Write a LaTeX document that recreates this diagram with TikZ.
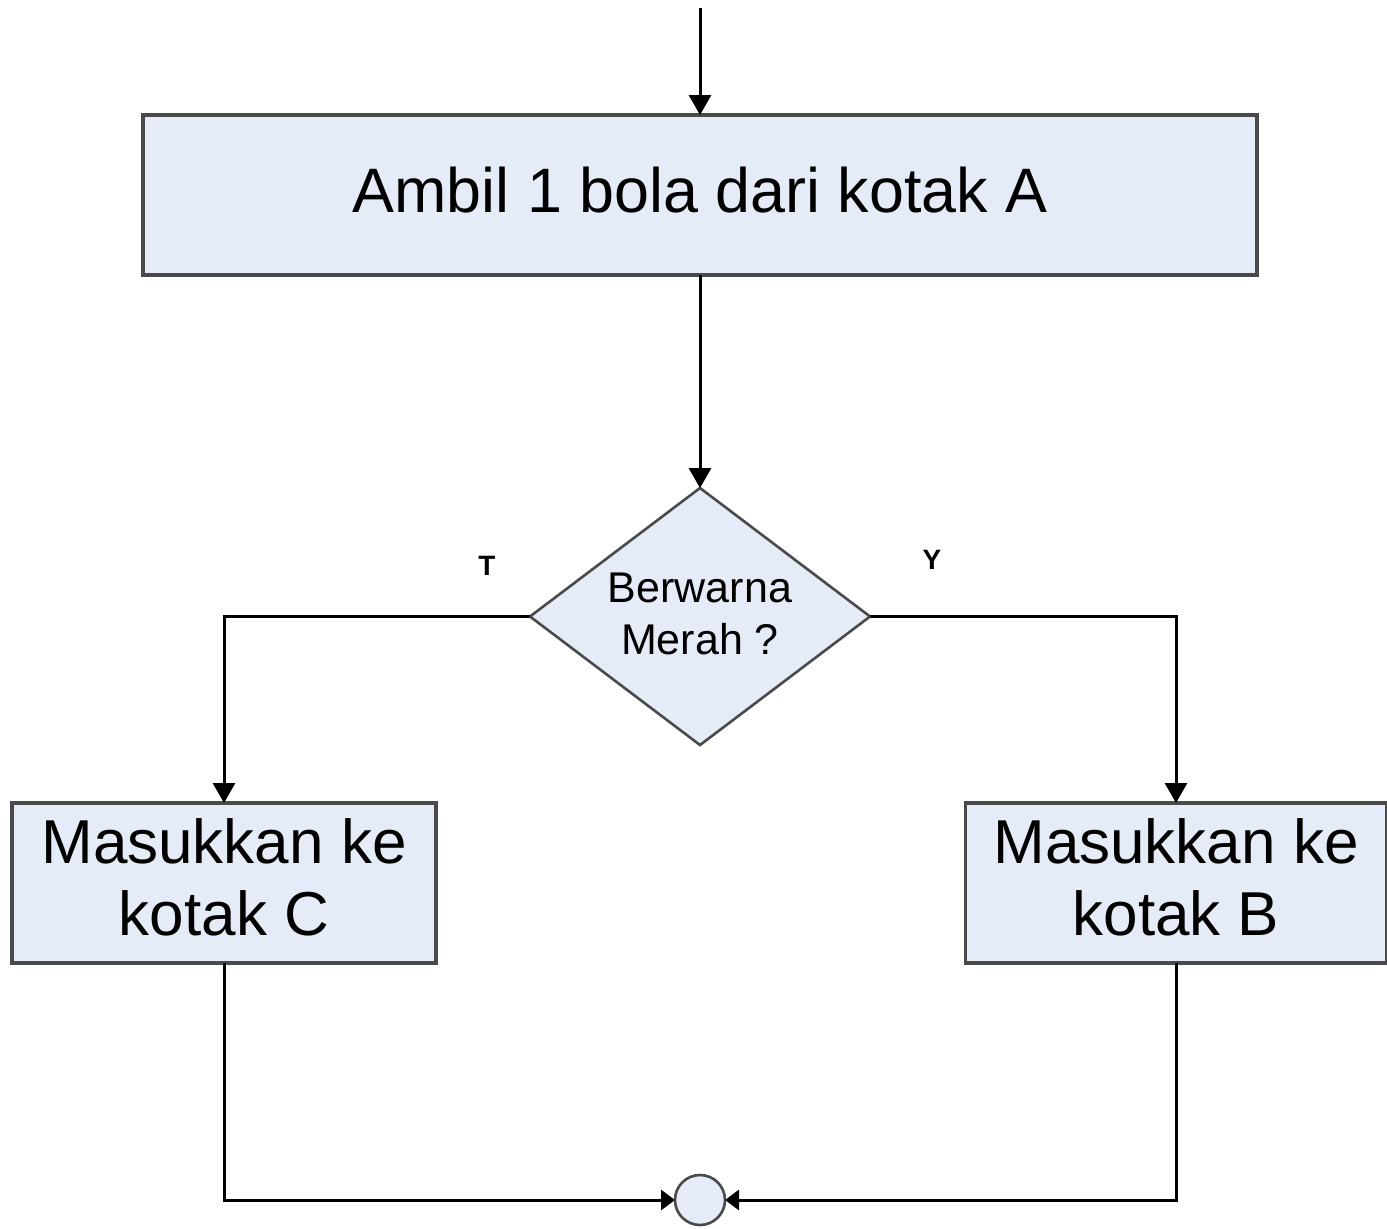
\documentclass[tikz,border=0pt]{standalone}
\usepackage{fontspec}
\setmainfont{Liberation Sans}
\usetikzlibrary{shapes.geometric,arrows.meta}
\definecolor{boxfill}{HTML}{E6ECF7}
\definecolor{boxline}{HTML}{4A4A4A}
\begin{document}
\begin{tikzpicture}[x=0.5pt,y=-0.5pt,
  procbox/.style={draw=boxline,line width=1.6pt,fill=boxfill,inner sep=0pt,outer sep=0pt},
  flow/.style={line width=1.5pt,-{Triangle[length=10pt,width=11pt]}},
  joinflow/.style={line width=1.5pt,-{Triangle[length=7pt,width=10pt]}},
  branch/.style={font=\bfseries\fontsize{14}{16}\selectfont}]
\useasboundingbox (0,0) rectangle (1387,1228);
% process boxes
\node[procbox,minimum width=557pt,minimum height=80pt] (A) at (700,195) {};
\node[font=\fontsize{31.4}{36}\selectfont] at (700,190) {Ambil 1 bola dari kotak A};
\node[procbox,minimum width=212pt,minimum height=80pt] (C) at (224,883) {};
\node[font=\fontsize{31}{36}\selectfont,align=center] at (224,877) {Masukkan ke\\kotak C};
\node[procbox,minimum width=210.5pt,minimum height=80pt] (B) at (1176,883) {};
\node[font=\fontsize{31}{36}\selectfont,align=center] at (1176,877) {Masukkan ke\\kotak B};
% decision
\node[diamond,draw=boxline,line width=1.3pt,fill=boxfill,minimum width=170pt,minimum height=128.5pt,inner sep=0pt,outer sep=0pt,aspect=1.32] (D) at (700,616.5) {};
\node[font=\fontsize{21.5}{26}\selectfont,align=center] at (700,614) {Berwarna\\Merah ?};
% connector end
\node[circle,draw=boxline,line width=1.3pt,fill=boxfill,minimum size=25pt,inner sep=0pt,outer sep=0pt] (E) at (700,1200) {};
\coordinate (start) at (700,8);
% connectors
\draw[flow] (start) -- (A.north);
\draw[flow] (A.south) -- (D.north);
\draw[flow] (D.west) -| (C.north);
\draw[flow] (D.east) -| (B.north);
\draw[joinflow] (C.south) |- (E.west);
\draw[joinflow] (B.south) |- (E.east);
% branch labels
\node[branch] at (487,566) {T};
\node[branch] at (932,560) {Y};
\end{tikzpicture}
\end{document}
